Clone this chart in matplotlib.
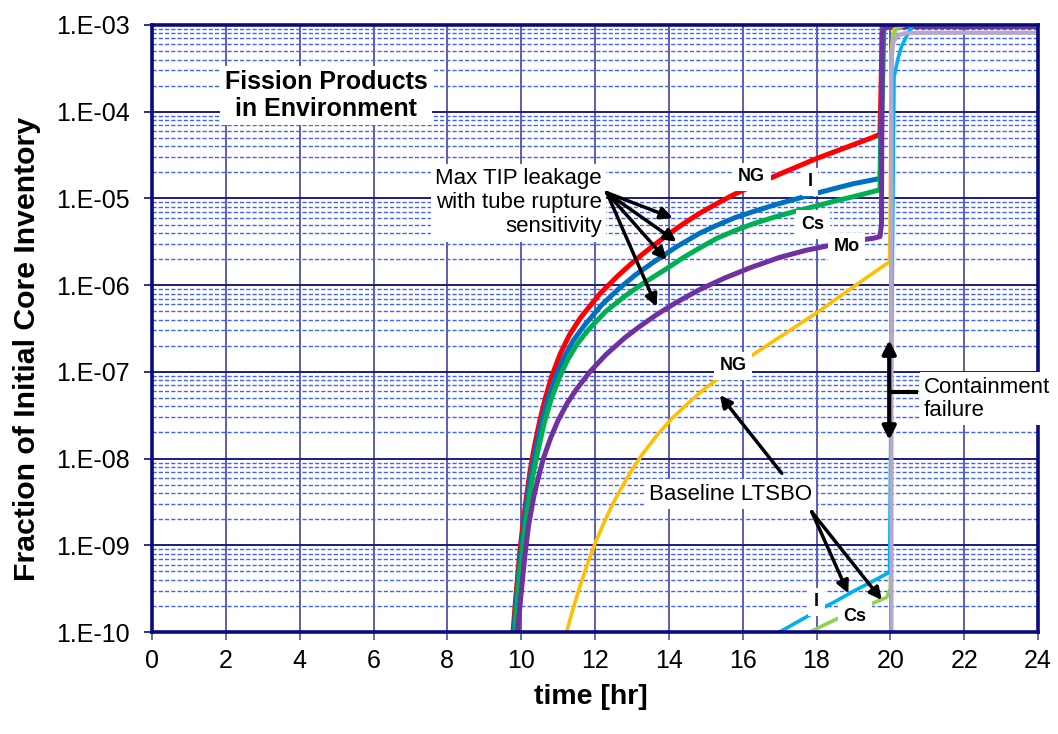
import numpy as np
import matplotlib
matplotlib.use('Agg')
import matplotlib.pyplot as plt
from matplotlib.ticker import FuncFormatter, LogLocator, NullFormatter

plt.rcParams['font.family'] = ['Liberation Sans', 'DejaVu Sans']

# Max TIP leakage with tube rupture sensitivity (time [hr], log10 fraction)
tip_ng_t = [9.78, 9.85, 9.91, 9.97, 10.05, 10.14, 10.24, 10.35, 10.5, 10.65, 10.83, 11.05,
            11.3, 11.6, 12.13, 12.6, 13.04, 13.5, 14.0, 14.4, 14.84, 15.3, 15.74, 16.3, 17.0,
            17.5, 18.0, 18.5, 19.0, 19.5, 19.72, 19.76, 19.8]
tip_ng_log = [-10, -9.62, -9.33, -9.05, -8.75, -8.45, -8.15, -7.88, -7.57, -7.31, -7.05, -6.8,
              -6.58, -6.38, -6.1, -5.9, -5.73, -5.57, -5.41, -5.29, -5.17, -5.06, -4.96, -4.85,
              -4.72, -4.63, -4.54, -4.46, -4.38, -4.3, -4.26, -3.5, -2.5]

tip_i_t = [9.8, 9.87, 9.93, 10.0, 10.08, 10.17, 10.28, 10.4, 10.55, 10.72, 10.92, 11.15,
           11.41, 11.72, 12.2, 12.65, 13.1, 13.6, 14.2, 14.84, 15.3, 15.8, 16.3, 16.9, 17.5,
           18.0, 18.45, 19.0, 19.72, 19.78, 19.82]
tip_i_log = [-10, -9.62, -9.33, -9.05, -8.75, -8.45, -8.15, -7.88, -7.58, -7.32, -7.07, -6.84,
             -6.64, -6.46, -6.22, -6.04, -5.88, -5.73, -5.56, -5.4, -5.31, -5.22, -5.15, -5.07,
             -5.0, -4.94, -4.89, -4.83, -4.77, -3.5, -2.5]

tip_cs_t = [9.83, 9.9, 9.96, 10.04, 10.12, 10.22, 10.34, 10.47, 10.63, 10.81, 11.02, 11.26,
            11.53, 11.85, 12.3, 12.8, 13.3, 13.94, 14.4, 14.84, 15.3, 15.8, 16.3, 16.9, 17.5,
            17.97, 18.5, 19.0, 19.72, 19.8, 19.85]
tip_cs_log = [-10, -9.62, -9.33, -9.05, -8.75, -8.45, -8.15, -7.88, -7.58, -7.32, -7.08, -6.86,
              -6.67, -6.5, -6.3, -6.13, -5.98, -5.81, -5.68, -5.57, -5.46, -5.37, -5.29, -5.21,
              -5.14, -5.09, -5.03, -4.98, -4.9, -3.5, -2.5]

tip_mo_t = [9.9, 10.0, 10.1, 10.2, 10.35, 10.5, 10.6, 10.8, 11.0, 11.25, 11.5, 11.86, 12.3,
            12.8, 13.2, 13.67, 14.2, 14.84, 15.5, 16.2, 17.0, 17.7, 18.37, 19.0, 19.53, 19.72,
            19.76, 19.78, 19.85, 20.3, 24.0]
tip_mo_log = [-10, -9.55, -9.12, -8.77, -8.42, -8.16, -8.0, -7.76, -7.56, -7.36, -7.2, -7.0,
              -6.8, -6.61, -6.48, -6.34, -6.2, -6.05, -5.92, -5.8, -5.68, -5.6, -5.54, -5.49,
              -5.46, -5.44, -5.3, -3.1, -3.03, -3.02, -3.02]

# Baseline LTSBO
base_ng_t = [11.23, 11.4, 11.6, 11.8, 12.0, 12.2, 12.45, 12.7, 13.0, 13.3, 13.7, 14.1, 14.5,
             14.9, 15.2, 15.6, 16.0, 16.5, 17.0, 17.5, 18.0, 18.5, 19.0, 19.5, 19.98, 20.0,
             20.02, 20.1, 20.4, 24.0]
base_ng_log = [-10, -9.74, -9.46, -9.21, -8.98, -8.78, -8.55, -8.35, -8.13, -7.94, -7.72,
               -7.53, -7.37, -7.22, -7.12, -7.0, -6.88, -6.74, -6.6, -6.46, -6.32, -6.17,
               -6.02, -5.87, -5.73, -5.0, -3.3, -3.05, -3.0, -3.0]

base_i_t = [17.0, 17.5, 18.0, 18.5, 19.0, 19.5, 19.98, 20.05, 20.1, 20.2, 20.3, 20.44, 20.6, 20.8]
base_i_log = [-10, -9.88, -9.76, -9.65, -9.53, -9.42, -9.31, -6.0, -3.6, -3.4, -3.25, -3.13,
              -3.0, -2.8]

base_cs_t = [17.82, 18.3, 18.8, 19.3, 19.9, 20.0, 20.03, 20.06, 20.15, 20.3, 24.0]
base_cs_log = [-10, -9.9, -9.8, -9.71, -9.6, -9.5, -4.0, -3.15, -3.05, -3.0, -3.0]

base_mo_t = [20.03, 20.03, 20.08, 20.2, 20.4, 21.0, 24.0]
base_mo_log = [-10.2, -3.4, -3.2, -3.12, -3.095, -3.09, -3.09]

x_ticks = list(range(0, 25, 2))
y_decades = [-10, -9, -8, -7, -6, -5, -4, -3]


def fmt_exp(v, pos):
    e = int(round(np.log10(v)))
    return '1.E-%02d' % abs(e)


def v(e):
    return 10.0 ** e


fig = plt.figure(figsize=(10.58, 7.34), dpi=100)
ax = fig.add_axes([152 / 1058, 1 - 632 / 734, 886 / 1058, 607 / 734])

ax.set_yscale('log')
ax.set_xlim(0, 24)
ax.set_ylim(v(y_decades[0]), v(y_decades[-1]))
ax.set_xticks(x_ticks)
ax.yaxis.set_major_locator(LogLocator(base=10))
ax.yaxis.set_minor_locator(LogLocator(base=10, subs=np.arange(2, 10)))
ax.yaxis.set_major_formatter(FuncFormatter(fmt_exp))
ax.yaxis.set_minor_formatter(NullFormatter())

# grid
ax.set_axisbelow(True)
ax.grid(which='major', axis='y', color='#1c1c86', lw=1.4, ls='-')
ax.grid(which='major', axis='x', color='#5252a8', lw=1.3, ls='-')
ax.grid(which='minor', axis='y', color='#3f63ff', lw=1.0, ls=(0, (3, 1.5)))

for s in ax.spines.values():
    s.set_color('#0a0a80')
    s.set_linewidth(2.6)

ax.tick_params(axis='y', which='major', direction='out', length=6, width=1.2, color='#0a0a80',
               pad=10, labelsize=18)
ax.tick_params(axis='x', which='major', direction='out', length=6, width=1.2, color='#5252a8',
               pad=6, labelsize=18)
ax.tick_params(axis='y', which='minor', length=0)

# series
series = [
    (tip_ng_t, tip_ng_log, '#ff0000', 3.6),
    (tip_i_t, tip_i_log, '#0070c0', 3.6),
    (tip_cs_t, tip_cs_log, '#00b050', 3.6),
    (tip_mo_t, tip_mo_log, '#7030a0', 3.6),
    (base_ng_t, base_ng_log, '#ffc000', 2.6),
    (base_cs_t, base_cs_log, '#92d050', 2.6),
    (base_i_t, base_i_log, '#00b0f0', 2.6),
    (base_mo_t, base_mo_log, '#b3a9d0', 3.0),
]
for t, lg, c, w in series:
    ax.plot(t, v(np.array(lg)), color=c, lw=w, solid_joinstyle='round', zorder=2)

box = dict(facecolor='white', edgecolor='none', pad=3)

ax.text(4.71, v(-3.81), 'Fission Products\nin Environment', fontsize=18, fontweight='bold',
        ha='center', va='center', linespacing=1.15, bbox=box, zorder=5)

ax.text(12.18, v(-5.05), 'Max TIP leakage\nwith tube rupture\nsensitivity', fontsize=16,
        ha='right', va='center', multialignment='right', linespacing=1.2, bbox=box, zorder=5)

lab_box = dict(facecolor='white', edgecolor='none', pad=4)
for x, e, s in [(16.24, -4.75, 'NG'), (17.82, -4.81, 'I'), (17.91, -5.30, 'Cs'),
                (18.82, -5.56, 'Mo'), (15.74, -6.93, 'NG'), (18.0, -9.65, 'I'),
                (19.04, -9.82, 'Cs')]:
    ax.text(x, v(e), s, fontsize=13, fontweight='bold', ha='center', va='center',
            bbox=lab_box, zorder=5)

ax.text(15.66, v(-8.41), 'Baseline LTSBO', fontsize=16, ha='center', va='center',
        bbox=box, zorder=5)

ax.text(20.91, v(-7.31), 'Containment\nfailure', fontsize=16, ha='left', va='center',
        linespacing=1.15, bbox=box, zorder=5, clip_on=False)

arr = dict(arrowstyle='-|>', color='black', lw=2.5, mutation_scale=18, shrinkA=0, shrinkB=0)
for x, e in [(14.11, -5.226), (14.21, -5.499), (13.94, -5.71), (13.67, -6.249)]:
    ax.annotate('', xy=(x, v(e)), xytext=(12.32, v(-4.934)), arrowprops=arr, zorder=6)

ax.annotate('', xy=(15.38, v(-7.267)), xytext=(17.06, v(-8.17)), arrowprops=arr, zorder=6)
for x, e in [(18.86, -9.554), (19.77, -9.631)]:
    ax.annotate('', xy=(x, v(e)), xytext=(17.87, v(-8.613)), arrowprops=arr, zorder=6)

# containment failure bracket
dbl = dict(arrowstyle='<|-|>', color='black', lw=3, mutation_scale=20, shrinkA=0, shrinkB=0)
ax.annotate('', xy=(19.97, v(-6.633)), xytext=(19.97, v(-7.786)), arrowprops=dbl, zorder=6)
ax.plot([19.97, 20.75], [v(-7.229), v(-7.229)], color='black', lw=3, zorder=6,
        solid_capstyle='butt')

fig.text(591 / 1058, 1 - 697 / 734, 'time [hr]', fontsize=20.5, fontweight='bold',
         ha='center', va='center')
fig.text(27 / 1058, 1 - 349 / 734, 'Fraction of Initial Core Inventory', fontsize=21.8,
         fontweight='bold', ha='center', va='center', rotation=90)

fig.savefig('out.png', dpi=100)
